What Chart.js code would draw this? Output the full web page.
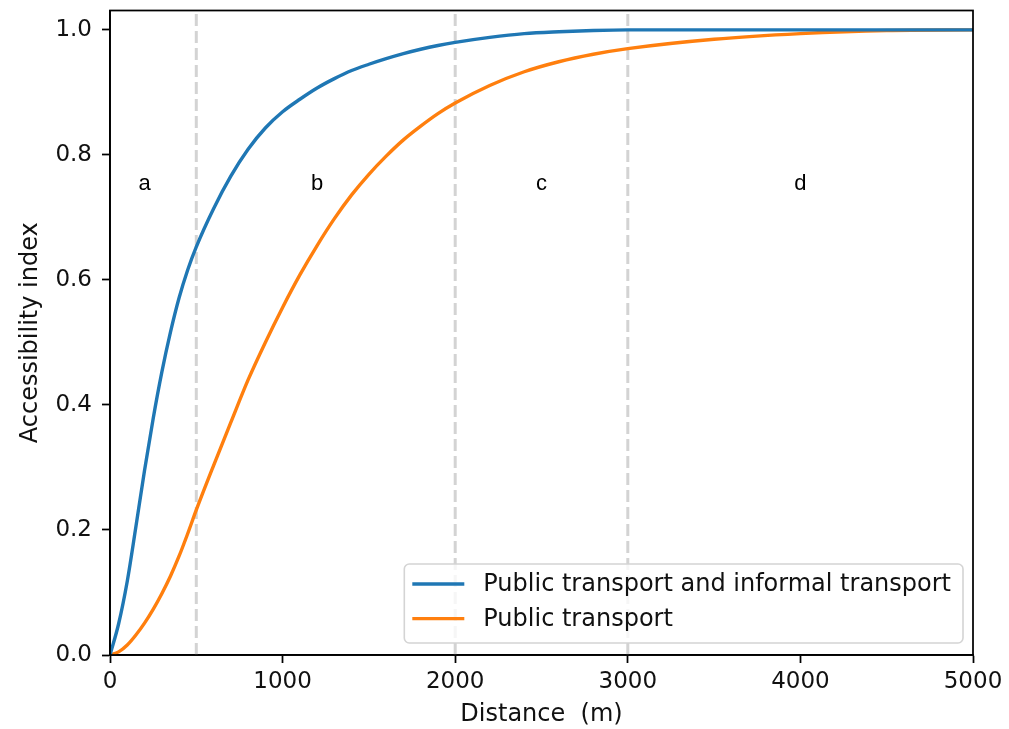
<!DOCTYPE html>
<html>
<head>
<meta charset="utf-8">
<script src="https://cdn.jsdelivr.net/npm/chart.js@4.4.1/dist/chart.umd.min.js"></script>
<style>
  html, body { margin: 0; padding: 0; background: #fff; }
  #wrap { width: 1009px; height: 729px; }
</style>
</head>
<body>
<div id="wrap"><canvas id="myChart" width="1009" height="729"></canvas></div>
<script>
const distances = [0, 50, 100, 150, 200, 250, 300, 350, 400, 450, 500, 600, 700, 800, 900, 1000,
  1100, 1200, 1300, 1400, 1500, 1600, 1700, 1800, 1900, 2000, 2200, 2400, 2600, 2800, 3000,
  3500, 4000, 4500, 5000];

const informalValues = [0, 0.05, 0.118, 0.205, 0.295, 0.378, 0.452, 0.516, 0.571, 0.616, 0.653, 0.714, 0.766, 0.809, 0.843, 0.869,
  0.889, 0.907, 0.922, 0.935, 0.945, 0.954, 0.962, 0.969, 0.975, 0.980, 0.988, 0.994, 0.997, 0.999, 1.0,
  1.0, 1.0, 1.0, 1.0];

const publicValues = [0, 0.005, 0.016, 0.032, 0.051, 0.073, 0.098, 0.126, 0.158, 0.194, 0.232, 0.303, 0.372, 0.44, 0.50, 0.556,
  0.608, 0.655, 0.698, 0.736, 0.769, 0.798, 0.824, 0.846, 0.866, 0.883, 0.911, 0.933, 0.949, 0.961, 0.970,
  0.985, 0.994, 0.999, 1.0];

const seriesNames = ["Public transport and informal transport", "Public transport"];

// zone boundaries and zone letters
const zoneLines = [500, 2000, 3000];
const zoneLetters = ["a", "b", "c", "d"];
const zoneLetterX = [200, 1200, 2500, 4000];
const zoneLetterY = 0.744;

const xTicks = [0, 1000, 2000, 3000, 4000, 5000];
const yTicks = [0, 0.2, 0.4, 0.6, 0.8, 1.0];
const yMax = 1.031;

const BLUE = "#1f77b4";
const ORANGE = "#ff7f0e";
const TXT = "#111";
const FONT = "'DejaVu Sans', sans-serif";

const toPoints = (xs, ys) => xs.map((x, i) => ({ x: x, y: ys[i] }));

const datasets = [
  {
    label: seriesNames[0],
    data: toPoints(distances, informalValues),
    borderColor: BLUE,
    backgroundColor: BLUE,
    borderWidth: 3.4,
    pointRadius: 0,
    cubicInterpolationMode: "monotone",
    order: 0,
  },
  {
    label: seriesNames[1],
    data: toPoints(distances, publicValues),
    borderColor: ORANGE,
    backgroundColor: ORANGE,
    borderWidth: 3.4,
    pointRadius: 0,
    cubicInterpolationMode: "monotone",
    order: 0,
  },
];

zoneLines.forEach((d) => {
  datasets.push({
    label: "zone " + d,
    data: [{ x: d, y: 0 }, { x: d, y: yMax }],
    borderColor: "#d3d3d3",
    borderWidth: 3,
    borderDash: [12, 5],
    pointRadius: 0,
    order: 2,
  });
});

// letters a..d placed through the scales
const lettersPlugin = {
  id: "letters",
  afterDatasetsDraw(chart) {
    const { ctx, scales } = chart;
    ctx.save();
    ctx.fillStyle = "#000";
    ctx.font = "22px 'Liberation Sans', Arial, sans-serif";
    ctx.textAlign = "center";
    ctx.textBaseline = "alphabetic";
    zoneLetters.forEach((t, i) => {
      ctx.fillText(t, scales.x.getPixelForValue(zoneLetterX[i]), scales.y.getPixelForValue(zoneLetterY));
    });
    ctx.restore();
  },
};

// top/right spines and a matplotlib-like legend box
const framePlugin = {
  id: "frame",
  afterDraw(chart) {
    const { ctx, chartArea } = chart;
    ctx.save();
    ctx.strokeStyle = "#000";
    ctx.lineWidth = 1.75;
    ctx.strokeRect(chartArea.left, chartArea.top, chartArea.right - chartArea.left, chartArea.bottom - chartArea.top);

    ctx.font = "24px " + FONT;
    const textW = Math.max(...seriesNames.map((n) => ctx.measureText(n).width));
    const boxW = 8 + 52 + 19 + textW + 12;
    const boxH = 79;
    const boxR = chartArea.right - 10;
    const boxB = chartArea.bottom - 12;
    const boxL = boxR - boxW;
    const boxT = boxB - boxH;

    ctx.beginPath();
    ctx.roundRect(boxL, boxT, boxW, boxH, 5);
    ctx.fillStyle = "rgba(255,255,255,0.8)";
    ctx.fill();
    ctx.strokeStyle = "#d4d4d4";
    ctx.lineWidth = 1.6;
    ctx.stroke();

    const colors = [BLUE, ORANGE];
    seriesNames.forEach((n, i) => {
      const y = boxT + 20 + i * 34.6;
      ctx.beginPath();
      ctx.moveTo(boxL + 8, y);
      ctx.lineTo(boxL + 60, y);
      ctx.strokeStyle = colors[i];
      ctx.lineWidth = 3.4;
      ctx.stroke();
      ctx.fillStyle = TXT;
      ctx.textAlign = "left";
      ctx.textBaseline = "middle";
      ctx.fillText(n, boxL + 79, y + 1);
    });
    ctx.restore();
  },
};

const config = {
  type: "line",
  data: { datasets: datasets },
  options: {
    responsive: false,
    animation: false,
    devicePixelRatio: 1,
    layout: { padding: { top: 10.5, right: 36, left: 0, bottom: 0 } },
    plugins: {
      legend: { display: false },
      tooltip: { enabled: false },
    },
    scales: {
      x: {
        type: "linear",
        min: 0,
        max: 5000,
        afterFit: (scale) => { scale.height = 74; },
        afterBuildTicks: (scale) => { scale.ticks = xTicks.map((v) => ({ value: v })); },
        ticks: {
          color: TXT,
          font: { family: FONT, size: 23 },
          padding: 5,
          maxRotation: 0,
          callback: (v) => String(v),
        },
        grid: { drawOnChartArea: false, drawTicks: true, tickLength: 8, tickWidth: 1.75, tickColor: "#000" },
        border: { display: true, color: "#000", width: 1.75 },
        title: {
          display: true,
          text: "Distance  (m)",
          color: TXT,
          font: { family: FONT, size: 24 },
          padding: { top: 0, bottom: 0 },
        },
      },
      y: {
        type: "linear",
        min: 0,
        max: yMax,
        afterFit: (scale) => {
          scale.width = 110;
          scale.paddingTop = 0;
          scale.paddingBottom = 0;
        },
        afterBuildTicks: (scale) => { scale.ticks = yTicks.map((v) => ({ value: v })); },
        ticks: {
          color: TXT,
          font: { family: FONT, size: 23 },
          padding: 10,
          callback: (v) => Number(v).toFixed(1),
        },
        grid: { drawOnChartArea: false, drawTicks: true, tickLength: 8, tickWidth: 1.75, tickColor: "#000" },
        border: { display: true, color: "#000", width: 1.75 },
        title: {
          display: true,
          text: "Accessibility index",
          color: TXT,
          font: { family: FONT, size: 24 },
          padding: { top: 16, bottom: 0 },
        },
      },
    },
  },
  plugins: [lettersPlugin, framePlugin],
};

const myChart = new Chart(document.getElementById("myChart"), config);
</script>
</body>
</html>
